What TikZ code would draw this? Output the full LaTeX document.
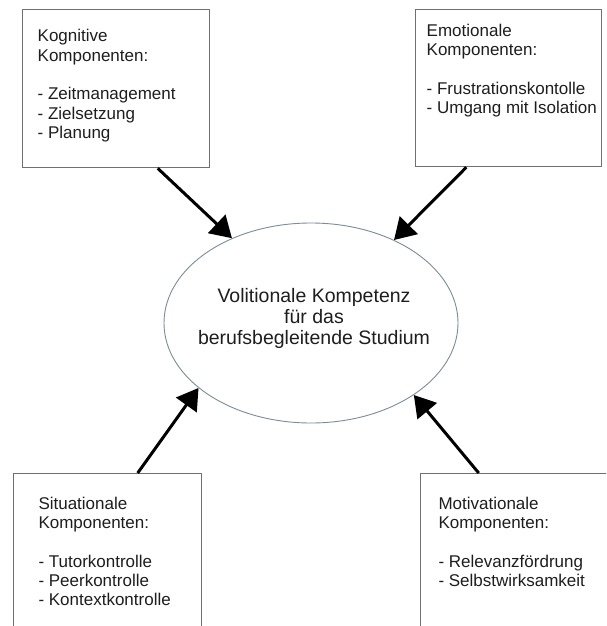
\documentclass[tikz,border=0pt]{standalone}
\usepackage{fontspec}
\setmainfont{Liberation Sans}
\newfontfamily\boxfont{Liberation Sans}
\usetikzlibrary{arrows.meta,shapes.geometric,calc}
\definecolor{boxgray}{RGB}{112,112,112}
\definecolor{ellcol}{RGB}{125,140,155}
\definecolor{textcol}{RGB}{30,30,30}
\begin{document}
\begin{tikzpicture}[x=1pt,y=-1pt,
  compbox/.style={draw=boxgray, line width=1.3pt, fill=white, anchor=north west, inner sep=0pt},
  comptext/.style={anchor=north west, inner sep=0pt, align=left, text=textcol,
    font=\boxfont\fontsize{17}{19.3}\selectfont},
  ell/.style={ellipse, draw=ellcol, line width=0.9pt, minimum width=294pt, minimum height=200pt, inner sep=0pt},
  elltext/.style={anchor=north, inner sep=0pt, align=center, text=textcol,
    font=\fontsize{19.5}{21}\selectfont},
  arr/.style={line width=3pt, -{Triangle[length=21pt,width=25pt]}}
]
\path[use as bounding box] (0,0) rectangle (606,626);
\clip (0,0) rectangle (606,626);
\fill[white] (0,0) rectangle (606,626);

% boxes
\node[compbox, minimum width=187pt, minimum height=158pt] (kog) at (22,9) {};
\node[compbox, minimum width=186pt, minimum height=157pt] (emo) at (415,9) {};
\node[compbox, minimum width=188pt, minimum height=180pt] (sit) at (13,473) {};
\node[compbox, minimum width=200pt, minimum height=180pt] (mot) at (420,473) {};

% box texts
\node[comptext] (kogt) at (37.5,29.3) {Kognitive\\Komponenten:\\[19.3pt]- Zeitmanagement\\- Zielsetzung\\- Planung};
\node[comptext] (emot) at (426.5,23.8) {Emotionale\\Komponenten:\\[19.3pt]- Frustrationskontolle\\- Umgang mit Isolation};
\node[comptext] (sitt) at (38.3,496.8) {Situationale\\Komponenten:\\[19.3pt]- Tutorkontrolle\\- Peerkontrolle\\- Kontextkontrolle};
\node[comptext] (mott) at (438.3,496.8) {Motivationale\\Komponenten:\\[19.3pt]- Relevanzfördrung\\- Selbstwirksamkeit};

% central ellipse
\node[ell] (ell) at (311,323) {};
\node[elltext] (ellt) at (314,288.3) {Volitionale Kompetenz\\für das\\berufsbegleitende Studium};

% arrows
\draw[arr] ([xshift=135.7pt]kog.south west) -- (ell.133.5);
\draw[arr] ([xshift=51.3pt]emo.south west) -- (ell.45.3);
\draw[arr] ([xshift=124.7pt]sit.north west) -- (ell.210.7);
\draw[arr] ([xshift=58.7pt]mot.north west) -- (ell.325.6);
\end{tikzpicture}
\end{document}
